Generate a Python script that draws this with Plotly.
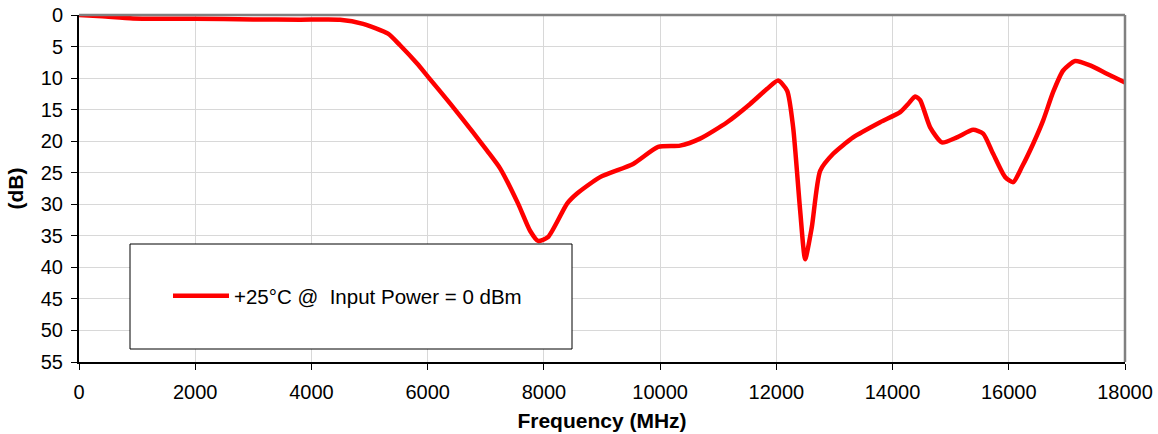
import plotly.graph_objects as go

freq_mhz = [0, 400, 930, 2000, 3000, 3804, 4492, 4888, 5318, 5525, 5818, 6007, 6385, 6781,
            7022, 7246, 7556, 7762, 7900, 8072, 8399, 8571, 8967, 9535, 9966, 10344,
            10688, 11153, 11549, 11842, 12031, 12186, 12289, 12410, 12496, 12611, 12754,
            12978, 13322, 13787, 14131, 14269, 14389, 14475, 14647, 14848, 15106, 15387,
            15559, 15731, 15938, 16076, 16225, 16420, 16592, 16764, 16936, 17143, 17401,
            17688, 18000]
loss_db = [0.0, 0.2, 0.55, 0.6, 0.7, 0.75, 0.75, 1.4, 2.95, 4.8, 7.7, 9.8, 14.0, 18.6,
           21.5, 24.3, 29.9, 34.2, 35.8, 35.2, 29.9, 28.3, 25.7, 23.6, 20.9, 20.7,
           19.6, 17.0, 14.1, 11.7, 10.4, 12.0, 17.8, 31.0, 38.7, 33.6, 24.7,
           22.0, 19.4, 17.0, 15.4, 14.1, 12.9, 13.5, 17.8, 20.2, 19.4, 18.2,
           18.8, 22.0, 25.7, 26.5, 24.1, 20.4, 16.7, 12.2, 8.8, 7.3, 8.0,
           9.3, 10.7]

series_name = "+25°C @  Input Power = 0 dBm"
x_ticks = [0, 2000, 4000, 6000, 8000, 10000, 12000, 14000, 16000, 18000]
x_tick_labels = ["0", "2000", "4000", "6000", "8000", "10000", "12000", "14000", "16000", "18000"]
y_ticks = [0, 5, 10, 15, 20, 25, 30, 35, 40, 45, 50, 55]
y_tick_labels = ["0", "5", "10", "15", "20", "25", "30", "35", "40", "45", "50", "55"]

FONT = "Liberation Sans, Arial, sans-serif"

fig = go.Figure()
fig.add_trace(go.Scatter(
    x=freq_mhz, y=loss_db, mode="lines", name=series_name,
    line=dict(color="#ff0000", width=4.5, shape="spline", smoothing=0.6),
    showlegend=True,
))

# legend frame
fig.add_shape(type="rect", xref="paper", yref="paper",
              x0=(130 - 79) / 1046, x1=(572 - 79) / 1046,
              y0=(362 - 349) / 347, y1=(362 - 244) / 347,
              line=dict(color="#000000", width=1), fillcolor="white", layer="above")
# top and right gray borders
fig.add_shape(type="line", xref="paper", yref="paper", x0=0, x1=1, y0=1, y1=1,
              line=dict(color="#808080", width=2.5), layer="above")
fig.add_shape(type="line", xref="paper", yref="paper", x0=1, x1=1, y0=0, y1=1,
              line=dict(color="#808080", width=2.5), layer="above")

fig.update_layout(
    width=1158, height=434,
    margin=dict(l=79, r=33, t=15, b=72, autoexpand=False),
    paper_bgcolor="white", plot_bgcolor="white",
    font=dict(family=FONT, size=20, color="black"),
    showlegend=True,
    legend=dict(x=(168 - 79) / 1046, y=(362 - 296) / 347, xanchor="left", yanchor="middle",
                bgcolor="rgba(0,0,0,0)", borderwidth=0, itemwidth=56,
                font=dict(family=FONT, size=20.5, color="black")),
    xaxis=dict(range=[0, 18000], tickvals=x_ticks, ticktext=x_tick_labels,
               ticks="outside", ticklen=6, automargin=False, ticklabelstandoff=5,
               ticklabeloverflow="allow",
               tickcolor="black", showline=True, linecolor="black", linewidth=2,
               showgrid=True, gridcolor="#d8d8d8", gridwidth=1, zeroline=False,
               tickfont=dict(family=FONT, size=20),
               title=dict(text="<b>Frequency (MHz)</b>", standoff=11,
                          font=dict(family=FONT, size=21))),
    yaxis=dict(range=[55, 0], tickvals=y_ticks, ticktext=y_tick_labels,
               ticks="outside", ticklen=6, automargin=False, ticklabelstandoff=4,
               ticklabeloverflow="allow",
               tickcolor="black", showline=True, linecolor="black", linewidth=2,
               showgrid=True, gridcolor="#d8d8d8", gridwidth=1, zeroline=False,
               tickfont=dict(family=FONT, size=20),
               title=dict(text="<b>(dB)</b>", standoff=11,
                          font=dict(family=FONT, size=21))),
)

fig.write_html("out.html",
               config={"displayModeBar": False},
               post_script="document.body.style.margin='0';document.body.style.overflow='hidden';")
